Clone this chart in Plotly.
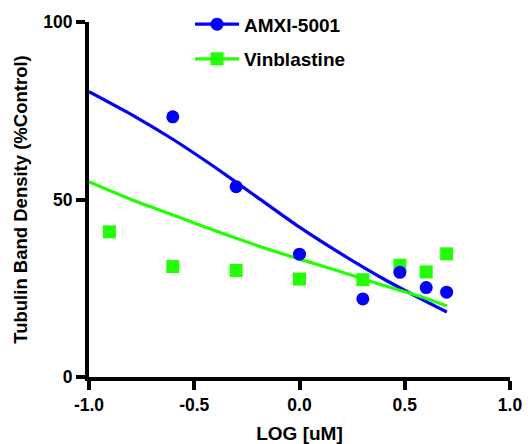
import plotly.graph_objects as go

# Log10 concentrations (uM)
log_conc_amxi = [-0.602, -0.301, 0.0, 0.301, 0.477, 0.602, 0.699]
amxi_density = [73.3, 53.6, 34.6, 22.0, 29.5, 25.2, 23.9]

log_conc_vinb = [-0.903, -0.602, -0.301, 0.0, 0.301, 0.477, 0.602, 0.699]
vinb_density = [40.9, 31.1, 30.0, 27.6, 27.4, 31.5, 29.6, 34.7]

# Fitted curves
fit_x = [-1.0, -0.8, -0.6, -0.4, -0.2, 0.0, 0.2, 0.4, 0.6, 0.7]
amxi_fit = [80.4, 74.0, 66.9, 59.0, 50.6, 42.2, 34.6, 27.6, 21.3, 18.3]
vinb_fit = [55.0, 50.0, 45.6, 41.2, 37.0, 33.2, 29.6, 25.8, 22.2, 20.0]

x_ticks = [-1.0, -0.5, 0.0, 0.5, 1.0]
x_ticklabels = ["-1.0", "-0.5", "0.0", "0.5", "1.0"]
y_ticks = [0, 50, 100]

BLUE = "#0000ff"
GREEN = "#22ff00"
FONT = "Liberation Sans, Arial, sans-serif"

fig = go.Figure()

fig.add_trace(go.Scatter(x=fit_x, y=amxi_fit, mode="lines",
                         line=dict(color=BLUE, width=3.2, shape="spline", smoothing=0.5),
                         showlegend=False, hoverinfo="skip"))
fig.add_trace(go.Scatter(x=fit_x, y=vinb_fit, mode="lines",
                         line=dict(color=GREEN, width=3.2, shape="spline", smoothing=0.5),
                         showlegend=False, hoverinfo="skip"))
fig.add_trace(go.Scatter(x=log_conc_vinb, y=vinb_density, mode="markers",
                         marker=dict(symbol="square", size=13, color=GREEN), showlegend=False))
fig.add_trace(go.Scatter(x=log_conc_amxi, y=amxi_density, mode="markers",
                         marker=dict(symbol="circle", size=13, color=BLUE), showlegend=False))

# Legend entries (line + marker)
fig.add_trace(go.Scatter(x=[None], y=[None], mode="lines+markers", name="AMXI-5001", legendrank=1,
                         legendgroup="a", line=dict(color=BLUE, width=3.2),
                         marker=dict(symbol="circle", size=13, color=BLUE)))
fig.add_trace(go.Scatter(x=[None], y=[None], mode="lines+markers", name="Vinblastine", legendrank=2,
                         legendgroup="b", line=dict(color=GREEN, width=3.2),
                         marker=dict(symbol="square", size=13, color=GREEN)))

axis_common = dict(showgrid=False, zeroline=False, showline=True, linecolor="black", linewidth=4,
                   ticks="outside", ticklen=9, tickwidth=3.5, tickcolor="black",
                   tickfont=dict(family=FONT, size=17.5, color="black", weight="bold"))

fig.update_xaxes(range=[-1, 1], tickvals=x_ticks, ticktext=x_ticklabels,
                 title=dict(text="LOG [uM]", font=dict(family=FONT, size=19, color="black", weight="bold"),
                            standoff=14),
                 **axis_common)
fig.update_yaxes(range=[0, 100], tickvals=y_ticks,
                 title=dict(text="Tubulin Band Density (%Control)",
                            font=dict(family=FONT, size=18.5, color="black", weight="bold"), standoff=12),
                 **axis_common)

fig.update_layout(
    width=528, height=444,
    margin=dict(l=89, r=18, t=22, b=67, autoexpand=False),
    plot_bgcolor="white", paper_bgcolor="white",
    legend=dict(x=0.24, y=1.047, xanchor="left", yanchor="top", bgcolor="rgba(0,0,0,0)",
                traceorder="grouped", tracegroupgap=7, itemwidth=44,
                font=dict(family=FONT, size=19, color="black", weight="bold")),
)

fig.write_html("out.html")
